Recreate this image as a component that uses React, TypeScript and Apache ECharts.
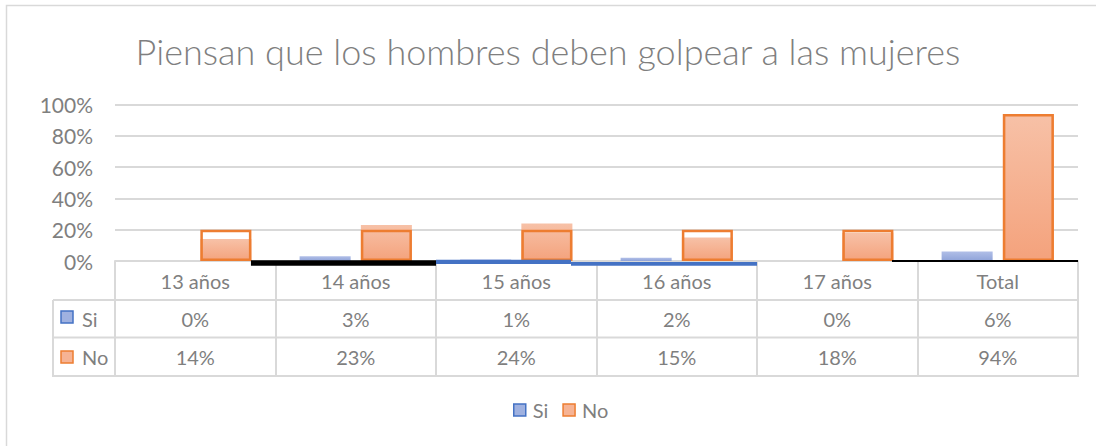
import React, { useEffect, useRef } from "react";
import * as echarts from "echarts";

const title = "Piensan que los hombres deben golpear a las mujeres";
const categories = ["13 años", "14 años", "15 años", "16 años", "17 años", "Total"];
const siValues = [0, 3, 1, 2, 0, 6];
const noValues = [14, 23, 24, 15, 18, 94];
// orange outline boxes drawn over the "No" bars in the original
const noOutline = [20, 20, 20, 20, 20, 94];
// stray line segments along the baseline in the original, [category position, value]
const blackThick = [[0.847, -1.3], [2.0, -1.3]];
const blueA = [[2.0, -0.6], [2.841, -0.6]];
const blueB = [[2.841, -1.9], [4.0, -1.9]];
const blackThin = [[4.841, 0], [6.0, 0]];

const FONT = "Lato, 'Open Sans', sans-serif";
const TXT = "#7f7f7f";
const GRIDC = "#d9d9d9";

const siFill = new echarts.graphic.LinearGradient(0, 0, 0, 1, [
  { offset: 0, color: "#b0bee7" },
  { offset: 1, color: "#8fa3d9" },
]);
const noFill = new echarts.graphic.LinearGradient(0, 0, 0, 1, [
  { offset: 0, color: "#f7c1a7" },
  { offset: 1, color: "#f4a27c" },
]);

export default function App() {
  const ref = useRef<HTMLDivElement>(null);
  useEffect(() => {
    if (!ref.current) return;
    const chart = echarts.init(ref.current, null, { renderer: "svg" });
    const L = 115, R = 1078, T = 104.7, B = 261;
    const rowY = [300, 337.5, 376];
    const lineStyleT = { stroke: GRIDC, lineWidth: 2 };
    const graphics: any[] = [
      { type: "rect", shape: { x: 6.5, y: 5.5, width: 1200, height: 600 }, style: { fill: "none", stroke: GRIDC, lineWidth: 1.5 }, silent: true },
      ...rowY.map((y) => ({ type: "line", shape: { x1: 53, y1: y, x2: R + 1, y2: y }, style: lineStyleT, silent: true })),
      { type: "line", shape: { x1: 53, y1: rowY[0], x2: 53, y2: rowY[2] + 1 }, style: lineStyleT, silent: true },
      { type: "rect", shape: { x: 61, y: 311, width: 12, height: 12 }, style: { fill: "#9fb1e0", stroke: "#4472c4", lineWidth: 1.5 } },
      { type: "text", x: 82, y: 318.7, style: { text: "Si", fill: TXT, font: `20px ${FONT}`, verticalAlign: "middle" } },
      { type: "rect", shape: { x: 61, y: 351, width: 12, height: 12 }, style: { fill: "#f6b394", stroke: "#ed7d31", lineWidth: 1.5 } },
      { type: "text", x: 82, y: 356.7, style: { text: "No", fill: TXT, font: `20px ${FONT}`, verticalAlign: "middle" } },
    ];
    const seg = (data: number[][], color: string, width: number) => ({
      type: "line",
      xAxisIndex: 2,
      data,
      symbol: "none",
      clip: false,
      silent: true,
      z: 5,
      lineStyle: { color, width, cap: "butt" },
    });
    chart.setOption({
      animation: false,
      title: {
        text: title,
        left: "center",
        top: 28,
        textStyle: { fontFamily: FONT, fontSize: 36, fontWeight: 300, color: TXT },
      },
      grid: { left: L, right: 1096 - R, top: T, bottom: 446 - B, containLabel: false },
      legend: {
        bottom: 21,
        left: 508,
        icon: "rect",
        itemWidth: 12,
        itemHeight: 12,
        itemGap: 14,
        textStyle: { fontFamily: FONT, fontSize: 20, color: TXT, padding: [0, 0, 0, 2] },
        data: [
          { name: "Si", itemStyle: { color: "#9fb1e0", borderColor: "#4472c4", borderWidth: 1.5 } },
          { name: "No", itemStyle: { color: "#f6b394", borderColor: "#ed7d31", borderWidth: 1.5 } },
        ],
      },
      xAxis: [
        {
          type: "category",
          data: categories,
          axisLine: { lineStyle: { color: GRIDC, width: 2 } },
          axisTick: { show: true, length: 115, lineStyle: { color: GRIDC, width: 2 }, interval: 0 },
          axisLabel: {
            interval: 0,
            margin: 1,
            fontFamily: FONT,
            fontSize: 20,
            color: TXT,
            lineHeight: 38,
            formatter: (v: string, i: number) => `${v}\n${siValues[i]}%\n${noValues[i]}%`,
          },
        },
        { type: "category", data: categories, show: false },
        { type: "value", min: 0, max: 6, show: false },
      ],
      yAxis: {
        type: "value",
        min: 0,
        max: 100,
        interval: 20,
        axisLine: { show: false },
        axisTick: { show: false },
        splitLine: { lineStyle: { color: GRIDC, width: 2 } },
        axisLabel: { formatter: "{value}%", margin: 22, fontFamily: FONT, fontSize: 21, color: TXT },
      },
      graphic: graphics,
      series: [
        { name: "Si", type: "bar", xAxisIndex: 0, data: siValues, barWidth: "31.8%", barGap: "20%", itemStyle: { color: siFill } },
        { name: "No", type: "bar", xAxisIndex: 0, data: noValues, barWidth: "31.8%", barGap: "20%", itemStyle: { color: noFill } },
        { name: "_pad", type: "bar", xAxisIndex: 1, data: categories.map(() => null), barWidth: "31.8%", barGap: "20%", silent: true },
        {
          name: "_outline",
          type: "bar",
          xAxisIndex: 1,
          data: noOutline,
          barWidth: "31.8%",
          barGap: "20%",
          silent: true,
          z: 3,
          itemStyle: { color: "rgba(0,0,0,0)", borderColor: "#ed7d31", borderWidth: 2.5 },
        },
        seg(blackThick, "#000000", 5.5),
        seg(blueA, "#4472c4", 4.3),
        seg(blueB, "#4472c4", 3.7),
        seg(blackThin, "#000000", 2),
      ],
    });
    return () => chart.dispose();
  }, []);
  return <div ref={ref} style={{ position: "fixed", left: 0, top: 0, width: 1096, height: 446, background: "#fff" }} />;
}
